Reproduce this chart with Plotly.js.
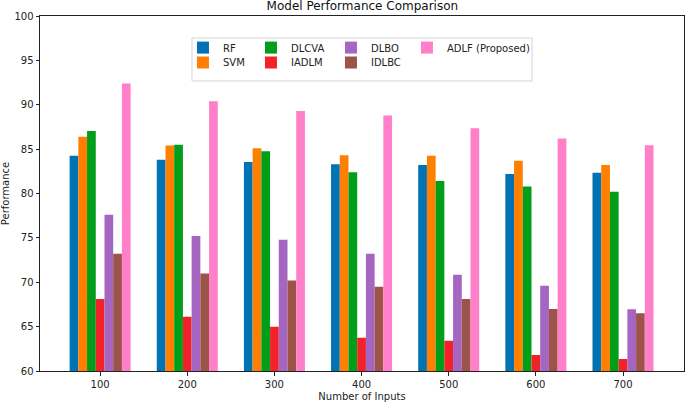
<!DOCTYPE html>
<html>
<head>
<meta charset="utf-8">
<script src="https://cdn.plot.ly/plotly-3.0.1.min.js"></script>
<style>
  html, body { margin: 0; padding: 0; background: #fff; }
  #chart { width: 685px; height: 402px; }
</style>
</head>
<body>
<div id="chart"></div>
<script>
// input sizes on the x axis
const inputs = ['100', '200', '300', '400', '500', '600', '700'];

// performance per model
const rf    = [84.25, 83.8, 83.55, 83.3, 83.2, 82.2, 82.35];
const svm   = [86.4, 85.4, 85.1, 84.3, 84.25, 83.7, 83.2];
const dlcva = [87.05, 85.5, 84.75, 82.4, 81.4, 80.8, 80.2];
const iadlm = [68.1, 66.1, 65.0, 63.75, 63.4, 61.8, 61.35];
const dlbo  = [77.6, 75.2, 74.8, 73.2, 70.85, 69.6, 66.95];
const idlbc = [73.2, 71.0, 70.2, 69.5, 68.1, 67.0, 66.5];
const adlf  = [92.4, 90.4, 89.3, 88.8, 87.35, 86.2, 85.45];

const modelNames = ['RF', 'SVM', 'DLCVA', 'IADLM', 'DLBO', 'IDLBC', 'ADLF (Proposed)'];
const modelValues = [rf, svm, dlcva, iadlm, dlbo, idlbc, adlf];
const colors = ['#0173B2', '#FF8000', '#009E19', '#F22229', '#A466C0', '#9C5449', '#FF7FC9'];

// matplotlib fills the legend column by column (2 rows), so split it in two legends
const legendRow = ['legend', 'legend2', 'legend', 'legend2', 'legend', 'legend2', 'legend'];
const colWidth  = [23, 23, 35, 35, 31, 31, 90];

const traces = modelNames.map((name, i) => ({
    type: 'bar',
    name: name,
    x: inputs,
    y: modelValues[i],
    marker: { color: colors[i], line: { width: 0 } },
    legend: legendRow[i],
    legendwidth: colWidth[i],
    hoverinfo: 'name+y'
}));

const font = { family: 'DejaVu Sans, sans-serif', size: 10, color: '#222' };

const legendBase = {
    orientation: 'h',
    xref: 'paper', yref: 'paper',
    x: 0.222, xanchor: 'left',
    yanchor: 'middle',
    bgcolor: 'rgba(0,0,0,0)',
    borderwidth: 0,
    font: font,
    itemwidth: 30,
    traceorder: 'normal'
};

const layout = {
    width: 685,
    height: 402,
    margin: { l: 40, r: 1, t: 16, b: 31 },
    paper_bgcolor: '#fff',
    plot_bgcolor: '#fff',
    font: font,
    showlegend: true,
    barmode: 'group',
    bargap: 0.3,
    bargroupgap: 0,
    title: {
        text: 'Model Performance Comparison',
        font: { family: 'DejaVu Sans, sans-serif', size: 12, color: '#111' },
        x: 0.529, xanchor: 'center',
        y: 0.997, yanchor: 'top'
    },
    xaxis: {
        type: 'category',
        range: [-0.69, 6.7],
        showgrid: false,
        zeroline: false,
        showline: true, mirror: true,
        linecolor: '#222', linewidth: 1,
        ticks: 'outside', ticklen: 3.5, tickwidth: 1, tickcolor: '#222',
        tickfont: font,
        title: { text: 'Number of Inputs', font: font, standoff: 6 }
    },
    yaxis: {
        range: [60, 100],
        tickvals: [60, 65, 70, 75, 80, 85, 90, 95, 100],
        showgrid: false,
        zeroline: false,
        showline: true, mirror: true,
        linecolor: '#222', linewidth: 1,
        ticks: 'outside', ticklen: 3.5, tickwidth: 1, tickcolor: '#222',
        tickfont: font,
        title: { text: 'Performance', font: font, standoff: 8 }
    },
    legend: Object.assign({}, legendBase, { y: 0.911 }),
    legend2: Object.assign({}, legendBase, { y: 0.869 }),
    shapes: [{
        type: 'rect',
        xref: 'paper', yref: 'paper',
        x0: 0.236, x1: 0.764,
        y0: 0.817, y1: 0.938,
        line: { color: '#d4d4d4', width: 1 },
        fillcolor: 'rgba(255,255,255,0.85)',
        layer: 'above'
    }]
};

Plotly.newPlot('chart', traces, layout, { displayModeBar: false, staticPlot: true });
</script>
</body>
</html>
